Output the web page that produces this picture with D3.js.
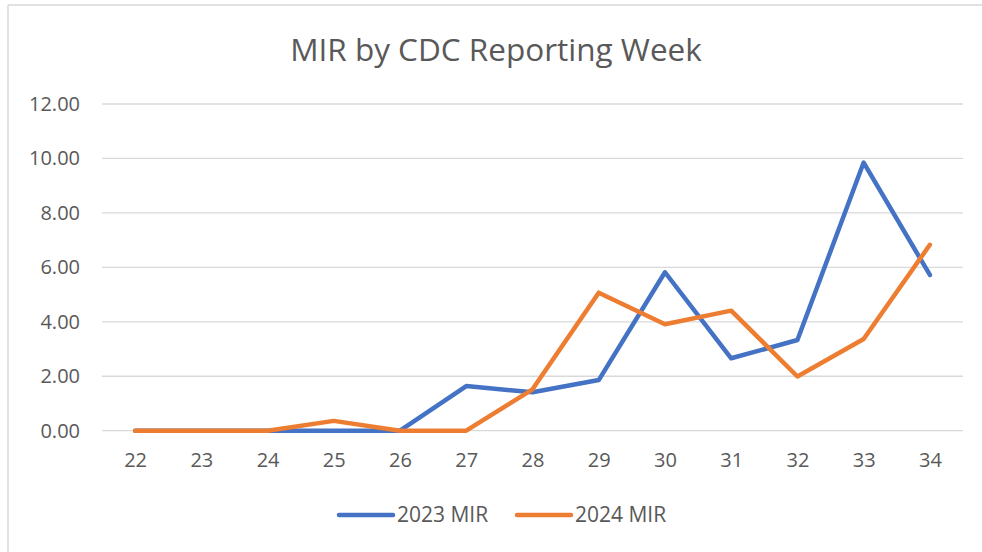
<!DOCTYPE html>
<html lang="en">
<head>
  <meta charset="UTF-8">
  <title>MIR by CDC Reporting Week</title>
  <script src="https://d3js.org/d3.v7.min.js"></script>
  <style>
    body { margin: 0; background: white; }
    text { font-family: "Open Sans", sans-serif; fill: #595959; }
    .grid line { stroke: #d9d9d9; stroke-width: 1.3; }
    .series { fill: none; stroke-width: 4.5; stroke-linejoin: round; stroke-linecap: round; }
  </style>
</head>
<body>
<div id="chart"></div>
<script>
  // data
  const weeks = [22, 23, 24, 25, 26, 27, 28, 29, 30, 31, 32, 33, 34];
  const mir2023 = [0, 0, 0, 0, 0, 1.64, 1.41, 1.86, 5.82, 2.66, 3.33, 9.85, 5.72];
  const mir2024 = [0, 0, 0, 0.36, 0, 0, 1.52, 5.07, 3.91, 4.41, 1.99, 3.37, 6.83];
  const yTicks = [0, 2, 4, 6, 8, 10, 12];
  const seriesNames = ["2023 MIR", "2024 MIR"];
  const seriesColors = ["#4472C4", "#ED7D31"];

  const width = 982, height = 552;
  const plotLeft = 102, plotRight = 963, plotTop = 104, plotBottom = 430.7;

  const svg = d3.select("#chart").append("svg")
    .attr("width", width)
    .attr("height", height);

  // chart frame (only top and left edge visible in the crop)
  svg.append("line").attr("x1", 8).attr("x2", 8).attr("y1", 5).attr("y2", height)
    .attr("stroke", "#d9d9d9").attr("stroke-width", 1.5);
  svg.append("line").attr("x1", 8).attr("x2", width).attr("y1", 5).attr("y2", 5)
    .attr("stroke", "#d9d9d9").attr("stroke-width", 1.5);

  // title
  svg.append("text")
    .attr("x", 496)
    .attr("y", 61)
    .attr("text-anchor", "middle")
    .attr("font-size", 31.5)
    .text("MIR by CDC Reporting Week");

  const x = d3.scalePoint()
    .domain(weeks)
    .range([plotLeft, plotRight])
    .padding(0.5);

  const y = d3.scaleLinear()
    .domain([0, 12])
    .range([plotBottom, plotTop]);

  // gridlines
  svg.append("g")
    .attr("class", "grid")
    .selectAll("line")
    .data(yTicks)
    .join("line")
    .attr("x1", plotLeft)
    .attr("x2", plotRight)
    .attr("y1", d => y(d))
    .attr("y2", d => y(d));

  // y axis labels
  const yAxis = svg.append("g")
    .attr("transform", `translate(${plotLeft - 22},0)`)
    .call(d3.axisLeft(y).tickValues(yTicks).tickFormat(d3.format(".2f")).tickSize(0).tickPadding(0));
  yAxis.select(".domain").remove();
  yAxis.selectAll("text").attr("font-size", 20).attr("font-family", null).attr("fill", null);

  // x axis labels
  const xAxis = svg.append("g")
    .attr("transform", `translate(0,${plotBottom})`)
    .call(d3.axisBottom(x).tickSize(0).tickPadding(22));
  xAxis.select(".domain").remove();
  xAxis.selectAll("text").attr("font-size", 20).attr("font-family", null).attr("fill", null);

  // lines
  const line = d3.line()
    .x((d, i) => x(weeks[i]))
    .y(d => y(d));

  [mir2023, mir2024].forEach((vals, k) => {
    svg.append("path")
      .datum(vals)
      .attr("class", "series")
      .attr("stroke", seriesColors[k])
      .attr("d", line);
  });

  // legend
  const legendX = [339, 517];
  const legend = svg.append("g")
    .selectAll("g")
    .data(seriesNames)
    .join("g")
    .attr("transform", (d, i) => `translate(${legendX[i]},515)`);
  legend.append("line")
    .attr("x1", 0).attr("x2", 54)
    .attr("stroke", (d, i) => seriesColors[i])
    .attr("stroke-width", 4.5)
    .attr("stroke-linecap", "round");
  legend.append("text")
    .attr("x", 58)
    .attr("y", 7)
    .attr("font-size", 21)
    .text(d => d);
</script>
</body>
</html>
